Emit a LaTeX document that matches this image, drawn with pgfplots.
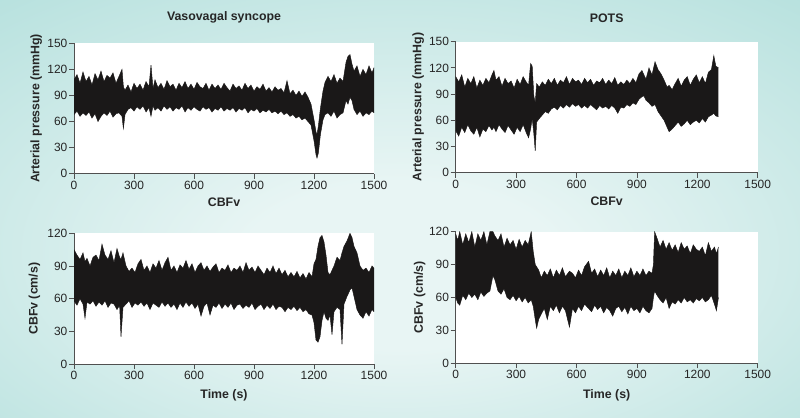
\documentclass[border=0pt]{standalone}
\usepackage{pgfplots}
\pgfplotsset{compat=1.18}
\usepackage{pgfplotstable}
\usepgfplotslibrary{fillbetween}
\usepackage{fontspec}
\setmainfont{Liberation Sans}
\definecolor{bgin}{RGB}{232,245,244}
\definecolor{bgout}{RGB}{136,206,201}
\definecolor{axgray}{RGB}{80,80,80}
\definecolor{sig}{RGB}{26,24,24}
\pgfdeclareradialshading{bgshade}{\pgfpoint{0bp}{-8bp}}{color(0bp)=(bgin); color(10bp)=(bgin); color(66bp)=(bgout)}
\pgfplotsset{
  layers/mine/.define layer set={picbg,axis background,axis grid,axis ticks,axis lines,axis tick labels,pre main,main,axis descriptions,axis foreground}{
    grid style={/pgfplots/on layer=axis grid},
    tick style={/pgfplots/on layer=axis ticks},
    axis line style={/pgfplots/on layer=axis lines},
    label style={/pgfplots/on layer=axis descriptions},
    legend style={/pgfplots/on layer=axis descriptions},
    title style={/pgfplots/on layer=axis descriptions},
    ticklabel style={/pgfplots/on layer=axis tick labels},
    axis background@ style={/pgfplots/on layer=axis background},
  },
  set layers=mine,
}

\pgfplotstableread{
x u l
0 108 68
15 114 72
30 104 66
45 117 70
60 106 67
75 112 71
90 102 64
105 115 69
120 108 60
135 118 66
150 106 70
165 113 67
180 110 72
195 116 65
210 104 69
225 112 70
240 120 66
247 100 52
255 96 68
270 102 74
285 94 76
300 104 72
315 98 77
330 103 74
345 96 78
360 106 71
375 100 76
385 125 66
395 98 78
405 108 73
420 99 76
435 104 72
450 97 78
465 107 74
480 100 77
495 103 72
510 96 76
525 104 74
540 99 78
555 106 71
570 98 76
585 103 73
600 97 77
615 105 74
630 100 72
645 98 77
660 104 74
675 96 76
690 103 71
705 98 75
720 102 73
735 97 77
750 104 72
765 99 75
780 95 73
795 103 76
810 98 71
825 101 75
840 96 73
855 104 76
870 98 70
885 102 74
900 95 72
915 100 75
930 97 70
945 103 73
960 95 71
975 99 74
990 94 70
1005 100 72
1020 96 69
1035 98 72
1050 93 68
1065 107 70
1080 92 66
1095 96 68
1110 90 64
1125 95 66
1140 89 62
1155 94 64
1170 88 60
1185 80 56
1200 62 38
1210 48 22
1215 45 18
1222 55 24
1232 75 45
1245 95 62
1255 105 68
1270 112 70
1285 106 66
1300 114 72
1315 104 64
1330 110 68
1345 106 70
1360 128 84
1370 135 80
1380 137 88
1390 126 84
1400 118 74
1415 124 68
1430 112 72
1445 120 66
1460 114 70
1475 124 68
1490 116 72
1500 122 70
}\dataA

\pgfplotstableread{
x u l
0 110 48
15 104 42
30 112 52
45 98 46
60 108 55
75 102 48
90 110 44
105 97 52
120 106 41
135 100 50
150 108 47
165 103 54
180 112 49
190 117 52
200 106 47
215 110 55
230 99 50
245 108 46
260 102 54
275 105 49
290 97 44
305 107 52
320 101 47
335 110 55
350 104 46
362 100 40
372 125 50
380 122 62
388 88 45
395 80 25
402 102 58
415 98 62
430 104 66
445 100 70
460 107 68
475 102 73
490 108 75
505 100 72
520 106 77
535 103 74
550 110 78
565 101 75
580 108 79
595 104 76
610 106 78
625 101 74
640 108 77
655 103 74
670 107 78
685 100 75
700 105 72
715 103 77
730 108 74
745 101 76
760 106 73
775 102 77
790 109 74
805 100 68
820 104 75
835 101 74
850 106 78
865 102 76
880 108 80
895 103 78
910 113 84
925 117 87
935 112 88
945 107 83
960 120 80
975 112 76
990 127 78
1005 118 70
1020 113 65
1035 106 60
1050 98 52
1060 100 47
1075 95 50
1090 102 54
1105 108 58
1120 99 53
1135 106 56
1150 110 60
1165 100 55
1180 107 58
1195 112 60
1210 103 57
1225 110 62
1240 102 58
1255 115 64
1270 118 66
1282 134 68
1292 122 65
1305 120 64
}\dataB

\pgfplotstableread{
x u l
0 105 58
15 100 54
30 96 60
45 102 55
55 94 42
65 97 57
80 90 55
95 98 58
110 100 53
125 95 57
140 110 54
155 100 58
170 96 52
185 104 56
200 93 55
215 106 50
228 98 54
235 96 25
245 102 52
260 90 55
275 85 58
290 88 52
305 84 56
320 92 54
335 96 57
350 86 53
365 90 56
380 84 50
395 92 56
410 88 54
425 95 52
440 86 57
455 93 53
470 98 56
485 86 52
500 90 55
515 84 50
530 91 56
545 88 52
560 95 57
575 87 53
590 92 56
605 84 51
620 90 55
635 93 44
650 86 53
665 90 56
680 85 45
695 89 54
710 92 52
725 84 56
740 88 51
755 86 55
770 91 52
785 84 56
800 88 50
815 86 54
830 90 55
845 84 51
860 93 54
875 86 52
890 89 56
905 84 50
920 90 53
935 86 55
950 82 50
965 88 54
980 84 51
995 90 55
1010 83 50
1025 88 53
1040 82 52
1055 86 48
1070 80 52
1085 84 50
1100 80 53
1115 85 49
1130 79 52
1145 83 48
1160 78 50
1175 84 46
1190 80 45
1200 92 38
1210 96 22
1220 108 20
1230 116 25
1240 118 40
1250 112 48
1260 100 42
1270 84 40
1280 82 45
1290 86 27
1300 90 48
1315 98 52
1330 95 50
1340 102 18
1350 108 55
1365 113 62
1380 120 68
1390 116 70
1400 108 62
1415 102 50
1430 90 45
1445 86 42
1460 88 48
1475 84 44
1490 90 50
1500 88 48
}\dataC

\pgfplotstableread{
x u l
0 118 60
10 112 55
20 120 53
35 108 62
50 118 58
65 110 64
80 120 60
95 106 63
110 118 58
125 112 65
140 120 61
155 108 64
170 120 66
185 120 80
195 116 76
210 112 66
225 118 63
240 106 68
255 114 60
270 108 58
285 112 62
300 104 57
315 113 61
330 106 56
345 112 60
360 108 55
375 120 58
385 102 52
395 90 40
402 88 32
412 85 40
425 78 45
440 84 50
455 80 40
470 86 52
485 78 48
500 85 53
515 80 46
530 87 52
545 79 48
565 84 33
580 82 50
595 78 46
610 85 52
625 80 48
640 88 54
660 93 50
675 82 47
690 86 53
705 79 49
720 85 52
735 80 46
750 87 51
765 78 48
780 84 43
795 80 50
810 86 52
825 78 47
840 84 51
855 80 45
870 87 52
885 79 48
900 84 50
915 80 46
930 86 52
945 80 48
960 84 46
975 82 50
982 90 60
988 120 66
1000 114 62
1015 106 58
1030 112 55
1045 104 60
1060 110 50
1075 103 56
1090 108 54
1105 101 58
1120 110 55
1135 104 60
1150 107 56
1165 100 58
1180 108 55
1195 104 59
1210 102 57
1225 106 60
1240 98 56
1255 110 58
1270 102 62
1285 106 54
1295 100 48
1305 106 60
}\dataD

\pgfplotsset{
  panel/.style={
    scale only axis,
    anchor=south west,
    axis x line*=bottom,
    axis y line*=left,
    axis line style={axgray, line width=0.8pt},
    every tick/.style={axgray, line width=0.8pt},
    tick align=outside,
    major tick length=5bp,
    xmin=0, xmax=1500,
    xtick={0,300,...,1500},
    ymin=0,
    axis background/.style={fill=white},
    /pgf/number format/assume math mode=true,
    /pgf/number format/1000 sep={},
    tick label style={font=\fontsize{12}{14}\selectfont, text=black!85},
    yticklabel style={inner sep=1.5bp},
    xticklabel style={inner sep=2bp},
    label style={font=\bfseries\fontsize{12.4}{14}\selectfont, text=black!85},
    title style={font=\bfseries\fontsize{12.4}{14}\selectfont, text=black!85, anchor=base, text depth=0pt},
    xlabel style={anchor=base, text depth=0pt},
    ylabel style={anchor=base, text depth=0pt},
    clip=true,
  },
  sigline/.style={draw=sig, line width=0.45pt},
}

\begin{document}
\begin{tikzpicture}
\pgfplotsset{set layers=mine}
\begin{pgfonlayer}{picbg}
\shade[shading=bgshade] (0,0) rectangle (800bp,418bp);
\end{pgfonlayer}

% Top left
\begin{axis}[panel, at={(74bp,244.3bp)}, width=300bp, height=130.4bp,
  ymax=150, ytick={0,30,...,150},
  title={Vasovagal syncope}, title style={at={(axis description cs:0.5,1.127)}},
  xlabel={CBFv}, xlabel style={at={(axis description cs:0.5,-0.25)}},
  ylabel={Arterial pressure (mmHg)}, ylabel style={at={(axis description cs:-0.115,0.5)}}]
\addplot[sigline, name path=au] table[x=x, y=u]{\dataA};
\addplot[sigline, name path=al] table[x=x, y=l]{\dataA};
\addplot[fill=sig] fill between[of=au and al];
\end{axis}

% Top right
\begin{axis}[panel, at={(455.7bp,245.3bp)}, width=302bp, height=131bp,
  ymax=150, ytick={0,30,...,150},
  title={POTS}, title style={at={(axis description cs:0.5,1.102)}},
  xlabel={CBFv}, xlabel style={at={(axis description cs:0.5,-0.25)}},
  ylabel={Arterial pressure (mmHg)}, ylabel style={at={(axis description cs:-0.114,0.5)}}]
\addplot[sigline, name path=bu] table[x=x, y=u]{\dataB};
\addplot[sigline, name path=bl] table[x=x, y=l]{\dataB};
\addplot[fill=sig] fill between[of=bu and bl];
\end{axis}

% Bottom left
\begin{axis}[panel, at={(74bp,54bp)}, width=300bp, height=130.7bp,
  ymax=120, ytick={0,30,...,120},
  xlabel={Time (s)}, xlabel style={at={(axis description cs:0.5,-0.262)}},
  ylabel={CBFv (cm/s)}, ylabel style={at={(axis description cs:-0.121,0.5)}}]
\addplot[sigline, name path=cu] table[x=x, y=u]{\dataC};
\addplot[sigline, name path=cl] table[x=x, y=l]{\dataC};
\addplot[fill=sig] fill between[of=cu and cl];
\end{axis}

% Bottom right
\begin{axis}[panel, at={(455.7bp,54.7bp)}, width=302bp, height=131.6bp,
  ymax=120, ytick={0,30,...,120},
  xlabel={Time (s)}, xlabel style={at={(axis description cs:0.5,-0.27)}},
  ylabel={CBFv (cm/s)}, ylabel style={at={(axis description cs:-0.109,0.5)}}]
\addplot[sigline, name path=du] table[x=x, y=u]{\dataD};
\addplot[sigline, name path=dl] table[x=x, y=l]{\dataD};
\addplot[fill=sig] fill between[of=du and dl];
\end{axis}

\pgfresetboundingbox
\path (0,0) rectangle (800bp,418bp);
\end{tikzpicture}
\end{document}
